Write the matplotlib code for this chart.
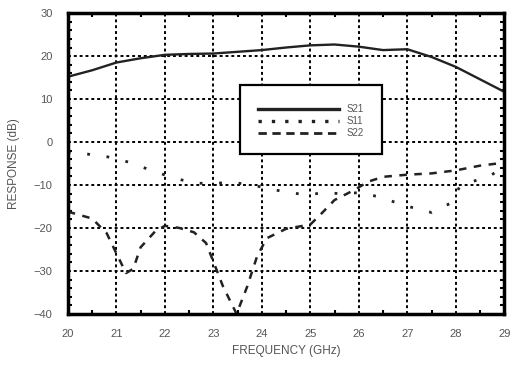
import matplotlib
matplotlib.use("Agg")
import matplotlib.pyplot as plt
from matplotlib.patches import Rectangle
from matplotlib.lines import Line2D
from matplotlib.ticker import MultipleLocator

plt.rcParams['font.family'] = ['Liberation Sans', 'DejaVu Sans']

# S21 (gain) versus frequency
freq_s21 = [20, 20.5, 21, 21.5, 22, 22.5, 23, 23.5, 24, 24.5, 25, 25.5,
            26, 26.5, 27, 27.5, 28, 28.5, 29]
s21 = [15.2, 16.7, 18.5, 19.5, 20.3, 20.5, 20.6, 21.0, 21.4, 22.0, 22.5,
       22.7, 22.2, 21.4, 21.6, 19.8, 17.5, 14.6, 11.7]

# S11 (input return loss)
freq_s11 = [20.0, 20.4, 20.8, 21.15, 21.5, 21.9, 22.3, 22.65, 23.0, 23.4,
            23.8, 24.2, 24.5, 24.9, 25.3, 25.6, 26.0, 26.4, 26.8, 27.15,
            27.5, 27.9, 28.1, 28.4, 28.7, 29.0]
s11 = [-2.4, -2.8, -3.4, -4.3, -5.7, -7.3, -8.7, -9.6, -9.6, -9.4,
       -10.0, -11.0, -11.6, -12.3, -11.8, -12.0, -11.8, -12.7, -14.2, -15.4,
       -16.4, -14.2, -10.0, -9.0, -7.9, -5.8]

# S22 (output return loss)
freq_s22 = [20.0, 20.5, 20.8, 21.0, 21.2, 21.35, 21.5, 21.8, 22.0, 22.3,
            22.6, 22.85, 23.0, 23.2, 23.48, 23.7, 23.9, 24.1, 24.5, 25.0,
            25.2, 25.5, 25.9, 26.2, 26.5, 27.0, 27.5, 28.0, 28.5, 29.0]
s22 = [-16.2, -17.8, -21.2, -25.9, -30.5, -29.5, -24.5, -20.8, -19.5, -20.0,
       -21.0, -23.5, -27.8, -33.6, -40.0, -33.6, -26.7, -22.4, -20.2, -19.2,
       -17.0, -13.5, -11.2, -9.2, -8.1, -7.6, -7.3, -6.6, -5.5, -4.8]

series_labels = ['S21', 'S11', 'S22']
x_ticks = list(range(20, 30))
y_ticks = list(range(-40, 31, 10))

text_color = '#555555'
ink = '#222222'

fig = plt.figure(figsize=(5.14, 3.65), dpi=100)
ax = fig.add_axes([0.132, 0.140, 0.849, 0.824])

ax.set_xlim(20, 29)
ax.set_ylim(-40, 30)
ax.set_xticks(x_ticks)
ax.set_yticks(y_ticks)
ax.xaxis.set_minor_locator(MultipleLocator(0.5))
ax.yaxis.set_minor_locator(MultipleLocator(2))

ax.grid(True, which='major', color='black', linestyle=(0, (1.5, 1.5)),
        linewidth=1.4)
ax.set_axisbelow(True)

ax.plot(freq_s21, s21, color=ink, linewidth=1.7, linestyle='-')
ax.plot(freq_s11, s11, color=ink, linewidth=2.0, linestyle=(0, (1, 6)))
ax.plot(freq_s22, s22, color=ink, linewidth=1.8, linestyle=(0, (3, 3)))

for sp in ax.spines.values():
    sp.set_linewidth(2.5)
    sp.set_color('black')

ax.tick_params(which='both', direction='in', top=True, right=True,
               colors='black', labelcolor=text_color, labelsize=8)
ax.tick_params(which='major', length=0, pad=11)
ax.tick_params(which='minor', length=3, width=1.5)

ax.set_xlabel('FREQUENCY (GHz)', color=text_color, fontsize=8.5, labelpad=4)
ax.set_ylabel('RESPONSE (dB)', color=text_color, fontsize=8.5, labelpad=10)

# legend box
ax.add_patch(Rectangle((0.394, 0.532), 0.326, 0.229, transform=ax.transAxes,
                       facecolor='white', edgecolor='black', linewidth=1.6,
                       zorder=5))
handles = [
    Line2D([], [], color=ink, linewidth=2.4, linestyle='-'),
    Line2D([], [], color=ink, linewidth=2.4, linestyle=(0, (1, 3))),
    Line2D([], [], color=ink, linewidth=2.0, linestyle=(0, (3, 2))),
]
leg = ax.legend(handles, series_labels, loc='center',
                bbox_to_anchor=(0.557, 0.64), frameon=False, fontsize=7,
                handlelength=8.3, handletextpad=0.8, labelspacing=0.2,
                labelcolor=text_color)
leg.set_zorder(6)

fig.savefig('out.png', dpi=100, facecolor='white')
